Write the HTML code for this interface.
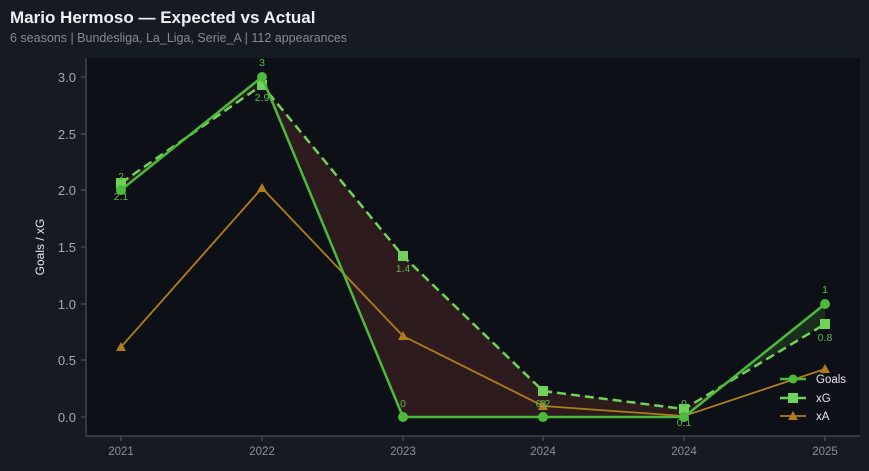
<!DOCTYPE html>
<html><head><meta charset="utf-8"><style>
body{margin:0;width:869px;height:466px;background:#161a21;font-family:"Liberation Sans",sans-serif;overflow:hidden}
</style></head><body>
<svg width="869" height="466" xmlns="http://www.w3.org/2000/svg" font-family="Liberation Sans, sans-serif">
<rect width="869" height="466" fill="#161a21"/>
<text x="10" y="23" font-size="17" font-weight="bold" fill="#eef0f4">Mario Hermoso — Expected vs Actual</text>
<text x="10" y="42" font-size="12.5" fill="#858a93">6 seasons | Bundesliga, La_Liga, Serie_A | 112 appearances</text>
<rect x="86" y="58" width="774" height="378" fill="#0d1017"/>
<line x1="86" y1="58" x2="86" y2="436" stroke="#555a63"/>
<line x1="86" y1="436" x2="860" y2="436" stroke="#555a63"/>
<g font-size="13" fill="#a5aab2" text-anchor="end">
<text x="76" y="82">3.0</text><text x="76" y="139">2.5</text><text x="76" y="195">2.0</text><text x="76" y="252">1.5</text><text x="76" y="309">1.0</text><text x="76" y="365">0.5</text><text x="76" y="422">0.0</text>
</g>
<g stroke="#555a63"><line x1="81" y1="77" x2="86" y2="77"/><line x1="81" y1="134" x2="86" y2="134"/><line x1="81" y1="190" x2="86" y2="190"/><line x1="81" y1="247" x2="86" y2="247"/><line x1="81" y1="304" x2="86" y2="304"/><line x1="81" y1="360" x2="86" y2="360"/><line x1="81" y1="417" x2="86" y2="417"/>
<line x1="121" y1="436" x2="121" y2="441"/><line x1="262" y1="436" x2="262" y2="441"/><line x1="403" y1="436" x2="403" y2="441"/><line x1="543" y1="436" x2="543" y2="441"/><line x1="684" y1="436" x2="684" y2="441"/><line x1="825" y1="436" x2="825" y2="441"/></g>
<g font-size="11.5" fill="#8a8f98" text-anchor="middle">
<text x="121" y="455">2021</text><text x="262" y="455">2022</text><text x="403" y="455">2023</text><text x="543" y="455">2024</text><text x="684" y="455">2024</text><text x="825" y="455">2025</text></g>
<text transform="translate(44,247) rotate(-90)" font-size="12" fill="#e6e8ec" text-anchor="middle">Goals / xG</text>
<!-- fills -->
<polygon points="121,190 191.5,134 262,85 268.6,93 403,256 543,391 684,409 723.5,385 684,417 543,417 403,417 262,77 191.5,134 121,183" fill="#2d1b1e"/>
<polygon points="262,77 268.6,93 262,85" fill="#1a2e1e"/>
<polygon points="723.5,385 825,304 825,324" fill="#1a2e1e"/>
<!-- xA -->
<polyline points="121,347 262,188 403,336 543,406 684,416 825,369" fill="none" stroke="#b07d1c" stroke-width="1.8"/>
<g fill="#b07d1c"><path d="M121,342l5,9h-10z"/><path d="M262,183l5,9h-10z"/><path d="M403,331l5,9h-10z"/><path d="M543,401l5,9h-10z"/><path d="M684,411l5,9h-10z"/><path d="M825,364l5,9h-10z"/></g>
<!-- xG -->
<polyline points="121,183 262,85 403,256 543,391 684,409 825,324" fill="none" stroke="#6fd35a" stroke-width="2.5" stroke-dasharray="9,5"/>
<g fill="#6fd35a"><rect x="116" y="178" width="10" height="10"/><rect x="257" y="80" width="10" height="10"/><rect x="398" y="251" width="10" height="10"/><rect x="538" y="386" width="10" height="10"/><rect x="679" y="404" width="10" height="10"/><rect x="820" y="319" width="10" height="10"/></g>
<!-- Goals -->
<polyline points="121,190 262,77 403,417 543,417 684,417 825,304" fill="none" stroke="#4cba3c" stroke-width="2.5"/>
<g fill="#4cba3c"><circle cx="121" cy="190" r="5"/><circle cx="262" cy="77" r="5"/><circle cx="403" cy="417" r="5"/><circle cx="543" cy="417" r="5"/><circle cx="684" cy="417" r="5"/><circle cx="825" cy="304" r="5"/></g>
<g font-size="10.5" fill="#5dbb46" text-anchor="middle">
<text x="121" y="180">2</text><text x="262" y="66">3</text><text x="403" y="407">0</text><text x="543" y="407">0</text><text x="684" y="407">0</text><text x="825" y="293">1</text>
<text x="121" y="200">2.1</text><text x="262" y="101">2.9</text><text x="403" y="272">1.4</text><text x="543" y="407">0.2</text><text x="684" y="426">0.1</text><text x="825" y="341">0.8</text></g>
<!-- legend -->
<g font-size="11.5" fill="#e6e8ec">
<line x1="780" y1="379" x2="806" y2="379" stroke="#4cba3c" stroke-width="2.5"/><circle cx="793" cy="379" r="4.5" fill="#4cba3c"/><text x="816" y="383">Goals</text>
<line x1="780" y1="398" x2="806" y2="398" stroke="#6fd35a" stroke-width="2.5"/><rect x="788" y="393" width="10" height="10" fill="#6fd35a"/><text x="816" y="402">xG</text>
<line x1="780" y1="416" x2="806" y2="416" stroke="#b07d1c" stroke-width="1.8"/><path d="M793,411l5,9h-10z" fill="#b07d1c"/><text x="816" y="420">xA</text>
</g>
</svg>
</body></html>
